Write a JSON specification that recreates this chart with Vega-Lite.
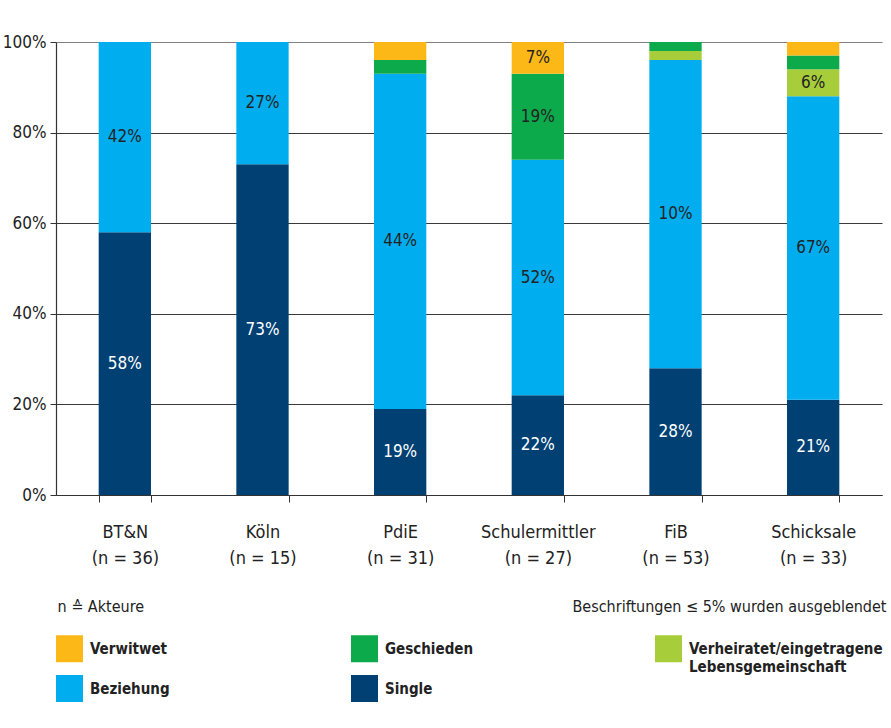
{
  "$schema": "https://vega.github.io/schema/vega-lite/v6.json",
  "width": 826,
  "height": 453,
  "autosize": "none",
  "padding": {"left": 56, "top": 42, "right": 9, "bottom": 233},
  "background": "white",
  "data": {
    "values": [
      {"group": "BT&N (n = 36)", "status": "Single", "value": 58, "label": "58%"},
      {"group": "BT&N (n = 36)", "status": "Beziehung", "value": 42, "label": "42%"},
      {"group": "Köln (n = 15)", "status": "Single", "value": 73, "label": "73%"},
      {"group": "Köln (n = 15)", "status": "Beziehung", "value": 27, "label": "27%"},
      {"group": "PdiE (n = 31)", "status": "Single", "value": 19, "label": "19%"},
      {"group": "PdiE (n = 31)", "status": "Beziehung", "value": 74, "label": "44%"},
      {"group": "PdiE (n = 31)", "status": "Geschieden", "value": 3, "label": ""},
      {"group": "PdiE (n = 31)", "status": "Verwitwet", "value": 4, "label": ""},
      {"group": "Schulermittler (n = 27)", "status": "Single", "value": 22, "label": "22%"},
      {"group": "Schulermittler (n = 27)", "status": "Beziehung", "value": 52, "label": "52%"},
      {"group": "Schulermittler (n = 27)", "status": "Geschieden", "value": 19, "label": "19%"},
      {"group": "Schulermittler (n = 27)", "status": "Verwitwet", "value": 7, "label": "7%"},
      {"group": "FiB (n = 53)", "status": "Single", "value": 28, "label": "28%"},
      {"group": "FiB (n = 53)", "status": "Beziehung", "value": 68, "label": "10%"},
      {"group": "FiB (n = 53)", "status": "Verheiratet/eingetragene Lebensgemeinschaft", "value": 2, "label": ""},
      {"group": "FiB (n = 53)", "status": "Geschieden", "value": 2, "label": ""},
      {"group": "Schicksale (n = 33)", "status": "Single", "value": 21, "label": "21%"},
      {"group": "Schicksale (n = 33)", "status": "Beziehung", "value": 67, "label": "67%"},
      {"group": "Schicksale (n = 33)", "status": "Verheiratet/eingetragene Lebensgemeinschaft", "value": 6, "label": "6%"},
      {"group": "Schicksale (n = 33)", "status": "Geschieden", "value": 3, "label": ""},
      {"group": "Schicksale (n = 33)", "status": "Verwitwet", "value": 3, "label": ""}
    ]
  },
  "transform": [
    {"calculate": "indexof(['Single', 'Beziehung', 'Verheiratet/eingetragene Lebensgemeinschaft', 'Geschieden', 'Verwitwet'], datum.status)", "as": "stackOrder"},
    {"stack": "value", "groupby": ["group"], "sort": [{"field": "stackOrder", "order": "ascending"}], "as": ["v0", "v1"]},
    {"calculate": "(datum.v0 + datum.v1) / 2", "as": "vMid"}
  ],
  "encoding": {
    "x": {
      "field": "group",
      "type": "nominal",
      "sort": null,
      "scale": {"paddingInner": 0.62, "paddingOuter": 0.31},
      "axis": {
        "title": "Beschriftungen ≤ 5% wurden ausgeblendet",
        "titleFontSize": 16,
        "titleFontWeight": "normal",
        "titleColor": "#222",
        "titleAnchor": "end",
        "titleAlign": "right",
        "titleBaseline": "middle",
        "titleX": 830,
        "titleY": 111,
        "labelExpr": "datum.label && indexof(datum.label, ' (') > 0 ? [split(datum.label, ' (')[0], '(' + split(datum.label, ' (')[1]] : ''",
        "labelAngle": 0,
        "labelFontSize": 18,
        "labelLineHeight": 26,
        "labelColor": "#222",
        "labelBaseline": "top",
        "labelPadding": 21,
        "tickBand": "extent",
        "tickSize": 7,
        "tickColor": "#333",
        "domainColor": "#333",
        "domainWidth": 1.2,
        "grid": false
      }
    }
  },
  "layer": [
    {
      "mark": {"type": "bar"},
      "encoding": {
        "y": {
          "field": "v0",
          "type": "quantitative",
          "scale": {"domain": [0, 100]},
          "axis": {
            "values": [0, 20, 40, 60, 80, 100],
            "labelExpr": "datum.value + '%'",
            "labelFontSize": 17,
            "labelColor": "#222",
            "labelPadding": 4,
            "tickSize": 6,
            "tickColor": "#333",
            "domainColor": "#333",
            "domainWidth": 1.2,
            "grid": true,
            "gridColor": {"condition": {"test": "datum.value === 100", "value": "#808080"}, "value": "#3a3a3a"},
            "gridWidth": 1.2,
            "title": "n ≙ Akteure",
            "titleAngle": 0,
            "titleAlign": "left",
            "titleBaseline": "middle",
            "titleFontSize": 16,
            "titleFontWeight": "normal",
            "titleColor": "#222",
            "titleX": 1,
            "titleY": 564
          }
        },
        "y2": {"field": "v1"},
        "color": {
          "field": "status",
          "type": "nominal",
          "scale": {
            "domain": ["Verwitwet", "Geschieden", "Verheiratet/eingetragene Lebensgemeinschaft", "Beziehung", "Single"],
            "range": ["#FBB817", "#0DAA4B", "#A7CE3A", "#00AEEF", "#004073"]
          },
          "legend": {
            "title": null,
            "orient": "none",
            "legendX": 0,
            "legendY": 593,
            "direction": "horizontal",
            "columns": 3,
            "padding": 0,
            "symbolType": "square",
            "symbolSize": 729,
            "symbolStrokeWidth": 0,
            "symbolOpacity": 1,
            "labelFontSize": 15,
            "labelFontWeight": "bold",
            "labelColor": "#222",
            "labelOffset": 7,
            "labelLimit": 400,
            "labelExpr": "datum.label == 'Verheiratet/eingetragene Lebensgemeinschaft' ? ['Verheiratet/eingetragene', 'Lebensgemeinschaft'] : [datum.label, '']",
            "columnPadding": 181,
            "rowPadding": 0
          }
        }
      }
    },
    {
      "mark": {"type": "text", "fontSize": 17, "baseline": "middle", "align": "center"},
      "encoding": {
        "y": {"field": "vMid", "type": "quantitative"},
        "text": {"field": "label"},
        "color": {"condition": {"test": "datum.status === 'Single'", "value": "#ffffff"}, "value": "#222222"}
      }
    }
  ],
  "config": {
    "font": "Liberation Sans Narrow, DejaVu Sans Condensed, sans-serif",
    "view": {"stroke": null},
    "style": {"guide-label": {"lineHeight": 18}}
  }
}
